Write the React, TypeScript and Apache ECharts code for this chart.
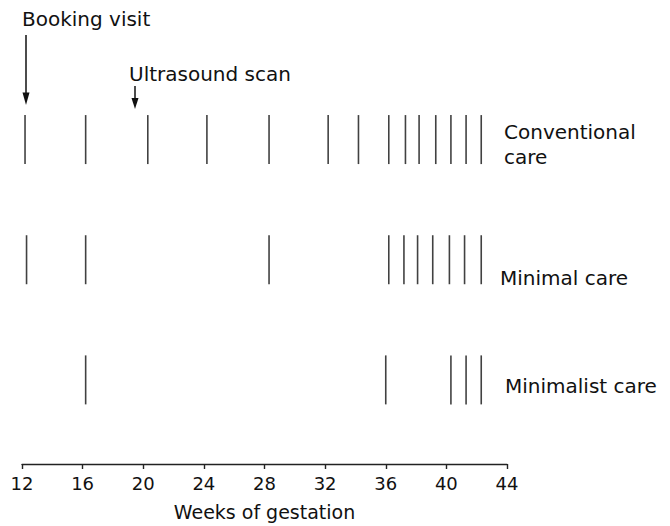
import React, { useEffect, useRef } from "react";
import * as echarts from "echarts";

const tickWeeks = [12, 16, 20, 24, 28, 32, 36, 40, 44];
const conventionalWeeks = [12.2, 16.2, 20.3, 24.2, 28.3, 32.2, 34.2, 36.2, 37.3, 38.2, 39.3, 40.3, 41.3, 42.3];
const minimalWeeks = [12.3, 16.2, 28.3, 36.2, 37.2, 38.1, 39.1, 40.2, 41.2, 42.3];
const minimalistWeeks = [16.2, 36.0, 40.3, 41.3, 42.3];
const rowNames = ["Conventional\ncare", "Minimal care", "Minimalist care"];
const rowLevels = [3, 2, 1];
const axisTitle = "Weeks of gestation";
const annotations = ["Booking visit", "Ultrasound scan"];

const FONT = "DejaVu Sans";
const INK = "#111";

export default function App() {
  const ref = useRef<HTMLDivElement>(null);
  useEffect(() => {
    if (!ref.current) return;
    const chart = echarts.init(ref.current, undefined, { renderer: "svg" });
    const rows = [conventionalWeeks, minimalWeeks, minimalistWeeks];
    const series = rows.map((weeks, i) => ({
      type: "scatter",
      name: rowNames[i],
      data: weeks.map((w) => [w, rowLevels[i]]),
      symbol: "rect",
      symbolSize: [1.6, 49],
      itemStyle: { color: "#111" },
      silent: true,
    }));
    chart.setOption({
      animation: false,
      backgroundColor: "#fff",
      grid: { left: 22, right: 163, top: 79.5, bottom: 62 },
      xAxis: {
        type: "value",
        min: tickWeeks[0],
        max: tickWeeks[tickWeeks.length - 1],
        interval: 4,
        name: axisTitle,
        nameLocation: "middle",
        nameGap: 38,
        nameTextStyle: { fontFamily: FONT, fontSize: 19, color: INK },
        axisLine: { show: true, lineStyle: { color: "#222", width: 1.4 } },
        axisTick: { show: true, length: 5, lineStyle: { color: "#222", width: 1.4 } },
        axisLabel: { fontFamily: FONT, fontSize: 18, color: INK, margin: 10 },
        splitLine: { show: false },
      },
      yAxis: {
        type: "value",
        min: 0.3,
        max: 3.5,
        show: false,
        splitLine: { show: false },
      },
      series,
      graphic: [
        { type: "text", x: 22, y: 19, style: { text: annotations[0], fontFamily: FONT, fontSize: 20, fill: INK, verticalAlign: "middle" } },
        { type: "text", x: 129, y: 74, style: { text: annotations[1], fontFamily: FONT, fontSize: 20, fill: INK, verticalAlign: "middle" } },
        { type: "line", shape: { x1: 26, y1: 35, x2: 26, y2: 95 }, style: { stroke: "#111", lineWidth: 1.5 } },
        { type: "polygon", shape: { points: [[22.5, 92.5], [29.5, 92.5], [26, 105]] }, style: { fill: "#111" } },
        { type: "line", shape: { x1: 135, y1: 86, x2: 135, y2: 100 }, style: { stroke: "#111", lineWidth: 1.5 } },
        { type: "polygon", shape: { points: [[131.5, 98], [138.5, 98], [135, 109]] }, style: { fill: "#111" } },
        { type: "text", x: 504, y: 131.5, style: { text: "Conventional", fontFamily: FONT, fontSize: 20, fill: INK, verticalAlign: "middle" } },
        { type: "text", x: 504, y: 156.5, style: { text: "care", fontFamily: FONT, fontSize: 20, fill: INK, verticalAlign: "middle" } },
        { type: "text", x: 500, y: 278, style: { text: rowNames[1], fontFamily: FONT, fontSize: 20, fill: INK, verticalAlign: "middle" } },
        { type: "text", x: 505, y: 385.5, style: { text: rowNames[2], fontFamily: FONT, fontSize: 20, fill: INK, verticalAlign: "middle" } },
      ],
    });
    return () => chart.dispose();
  }, []);
  return <div ref={ref} style={{ width: 670, height: 526, position: "absolute", left: 0, top: 0 }} />;
}
